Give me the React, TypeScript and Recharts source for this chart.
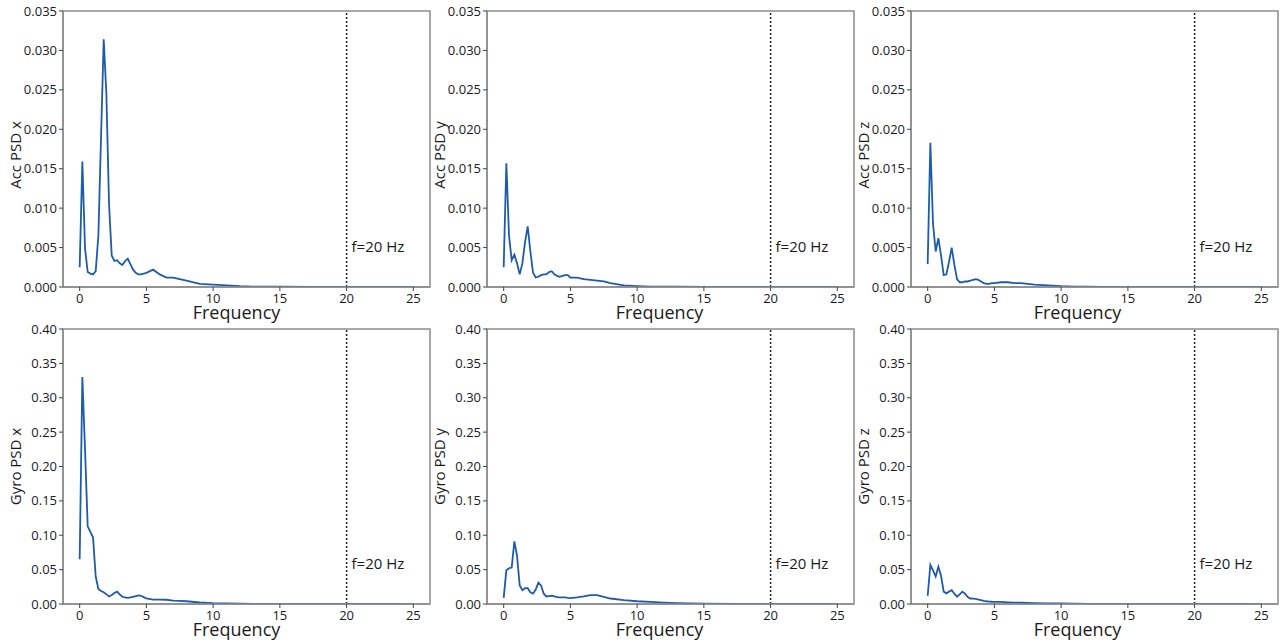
import { LineChart, Line, XAxis, YAxis, ReferenceLine, ReferenceArea } from "recharts";

// frequency grid (Hz), finer at the low end where the peaks are
const freqs = [
  0, 0.2, 0.4, 0.6, 0.8, 1.0, 1.2, 1.4, 1.6, 1.8, 2.0, 2.2, 2.4, 2.6, 2.8, 3.0, 3.2, 3.4, 3.6, 3.8,
  4.0, 4.2, 4.4, 4.6, 4.8, 5.0, 5.5, 6.0, 6.5, 7.0, 7.5, 8.0, 9.0, 10, 11, 12, 13, 15, 17.5, 20,
  22.5, 25,
];

const accX = [
  0.0025, 0.0159, 0.0049, 0.0019, 0.0017, 0.0016, 0.002, 0.0065, 0.019, 0.0314, 0.0245, 0.0105,
  0.004, 0.0033, 0.0034, 0.003, 0.0028, 0.0033, 0.0036, 0.0029, 0.0022, 0.0018, 0.0016, 0.0016,
  0.0017, 0.0018, 0.0022, 0.0016, 0.0012, 0.0012, 0.001, 0.0008, 0.0004, 0.0003, 0.0002, 0.0001,
  0.00006, 0.00003, 0.00002, 0.00001, 0.00001, 0.00001,
];

const accY = [
  0.0025, 0.0157, 0.0065, 0.0034, 0.0041, 0.003, 0.0016, 0.003, 0.0057, 0.0077, 0.0045, 0.0018,
  0.0012, 0.0013, 0.0015, 0.0016, 0.0016, 0.0019, 0.002, 0.0016, 0.0014, 0.0013, 0.0014, 0.0015,
  0.0015, 0.0012, 0.0012, 0.001, 0.0009, 0.0008, 0.0007, 0.0005, 0.0002, 0.00012, 0.00006,
  0.00004, 0.00003, 0.00002, 0.00001, 0.00001, 0, 0,
];

const accZ = [
  0.0029, 0.0183, 0.008, 0.0045, 0.0062, 0.004, 0.0015, 0.0016, 0.0032, 0.005, 0.0028, 0.001,
  0.0006, 0.0006, 0.0007, 0.0007, 0.0008, 0.0009, 0.001, 0.0009, 0.0007, 0.0005, 0.0004, 0.0004,
  0.0005, 0.0005, 0.0006, 0.0006, 0.0005, 0.0005, 0.0004, 0.0003, 0.0002, 0.0001, 0.00005,
  0.00003, 0.00002, 0.00001, 0, 0, 0, 0,
];

const gyroX = [
  0.065, 0.33, 0.225, 0.113, 0.105, 0.097, 0.04, 0.022, 0.019, 0.017, 0.014, 0.011, 0.013, 0.016,
  0.018, 0.014, 0.0105, 0.0095, 0.009, 0.0095, 0.0105, 0.0115, 0.0125, 0.012, 0.01, 0.008, 0.0065,
  0.0065, 0.0062, 0.005, 0.0045, 0.004, 0.0022, 0.0012, 0.0008, 0.0005, 0.0003, 0.0002, 0.0001,
  0.00005, 0, 0,
];

const gyroY = [
  0.009, 0.049, 0.052, 0.053, 0.091, 0.07, 0.027, 0.02, 0.023, 0.023, 0.017, 0.015, 0.021, 0.031,
  0.027, 0.015, 0.011, 0.0115, 0.012, 0.011, 0.01, 0.0097, 0.0097, 0.0097, 0.009, 0.0085, 0.0095,
  0.011, 0.013, 0.013, 0.0105, 0.008, 0.0055, 0.004, 0.003, 0.002, 0.0013, 0.0004, 0.0002, 0.0001,
  0.00005, 0,
];

const gyroZ = [
  0.012, 0.057, 0.049, 0.04, 0.054, 0.041, 0.018, 0.0155, 0.018, 0.02, 0.015, 0.0105, 0.014, 0.018,
  0.015, 0.01, 0.008, 0.0078, 0.0073, 0.0065, 0.0055, 0.0047, 0.004, 0.0035, 0.0033, 0.0032, 0.003,
  0.0025, 0.002, 0.0018, 0.0015, 0.0013, 0.001, 0.0007, 0.0005, 0.0003, 0.0002, 0.0001, 0.00005, 0,
  0, 0,
];

const xTicks = [0, 5, 10, 15, 20, 25];
const accTicks = [0, 0.005, 0.01, 0.015, 0.02, 0.025, 0.03, 0.035];
const gyroTicks = [0, 0.05, 0.1, 0.15, 0.2, 0.25, 0.3, 0.35, 0.4];

const cutoff = 20;
const xDomain: [number, number] = [-1.25, 26.25];

const LINE = "#1f5ba8";
const FRAME = "#8c8c8c";
const TEXT = "#1a1a1a";

const YLabel = ({ viewBox, text, shift }: any) => {
  const cx = viewBox.x + 15;
  const cy = viewBox.y + viewBox.height / 2 + shift;
  return (
    <text
      x={cx}
      y={cy}
      transform={`rotate(-90 ${cx} ${cy})`}
      textAnchor="middle"
      dominantBaseline="central"
      fontSize={15}
      fill={TEXT}
    >
      {text}
    </text>
  );
};

const XLabel = ({ viewBox, dx }: any) => (
  <text
    x={viewBox.x + viewBox.width / 2 + dx}
    y={viewBox.y + 32}
    textAnchor="middle"
    fontSize={18}
    fill={TEXT}
  >
    Frequency
  </text>
);

const CutoffLabel = ({ viewBox }: any) => (
  <text x={viewBox.x + 5} y={viewBox.y + viewBox.height - 35} fontSize={15} fill={TEXT}>
    f=20 Hz
  </text>
);

type PanelProps = {
  values: number[];
  title: string;
  ticks: number[];
  digits: number;
  col: number;
  row: number;
  labelShift: number;
};

const xLabelShift = [-10, -11, -17];

const Panel = ({ values, title, ticks, digits, col, row, labelShift }: PanelProps) => {
  const rows = freqs.map((f, i) => ({ f, v: values[i] }));
  const yMax = ticks[ticks.length - 1];
  const plotH = row === 0 ? 276 : 275;
  return (
    <div style={{ position: "absolute", left: 424 * col, top: row === 0 ? 0 : 318 }}>
      <LineChart
        width={434}
        height={11 + plotH + 36}
        data={rows}
        margin={{ top: 11, right: 4, bottom: 0, left: 0 }}
      >
        <XAxis
          dataKey="f"
          type="number"
          domain={xDomain}
          ticks={xTicks}
          allowDataOverflow
          height={36}
          tickSize={4}
          tickMargin={3}
          tick={{ fontSize: 13, fill: TEXT }}
          tickLine={{ stroke: "#444" }}
          axisLine={{ stroke: FRAME, strokeWidth: 1.5 }}
          label={<XLabel dx={xLabelShift[col]} />}
        />
        <YAxis
          type="number"
          domain={[0, yMax]}
          ticks={ticks}
          allowDataOverflow
          width={63}
          tickSize={4}
          tickMargin={2}
          tick={{ fontSize: 13, fill: TEXT }}
          tickLine={{ stroke: "#444" }}
          axisLine={{ stroke: FRAME, strokeWidth: 1.5 }}
          tickFormatter={(v: number) => v.toFixed(digits)}
          label={<YLabel text={title} shift={labelShift} />}
        />
        <ReferenceArea
          x1={xDomain[0]}
          x2={xDomain[1]}
          y1={0}
          y2={yMax}
          fill="none"
          stroke={FRAME}
          strokeWidth={1.5}
          ifOverflow="visible"
        />
        <ReferenceLine
          x={cutoff}
          stroke="#222"
          strokeWidth={1.5}
          strokeDasharray="2 2"
          label={<CutoffLabel />}
        />
        <Line
          type="linear"
          dataKey="v"
          stroke={LINE}
          strokeWidth={1.8}
          dot={false}
          activeDot={false}
          isAnimationActive={false}
        />
      </LineChart>
    </div>
  );
};

export default function App() {
  return (
    <div
      style={{
        position: "absolute",
        left: 0,
        top: 0,
        width: 1280,
        height: 643,
        background: "#fff",
        fontFamily: "'Open Sans', sans-serif",
      }}
    >
      <Panel values={accX} title="Acc PSD x" ticks={accTicks} digits={3} col={0} row={0} labelShift={6} />
      <Panel values={accY} title="Acc PSD y" ticks={accTicks} digits={3} col={1} row={0} labelShift={6} />
      <Panel values={accZ} title="Acc PSD z" ticks={accTicks} digits={3} col={2} row={0} labelShift={6} />
      <Panel values={gyroX} title="Gyro PSD x" ticks={gyroTicks} digits={2} col={0} row={1} labelShift={0} />
      <Panel values={gyroY} title="Gyro PSD y" ticks={gyroTicks} digits={2} col={1} row={1} labelShift={0} />
      <Panel values={gyroZ} title="Gyro PSD z" ticks={gyroTicks} digits={2} col={2} row={1} labelShift={0} />
    </div>
  );
}
